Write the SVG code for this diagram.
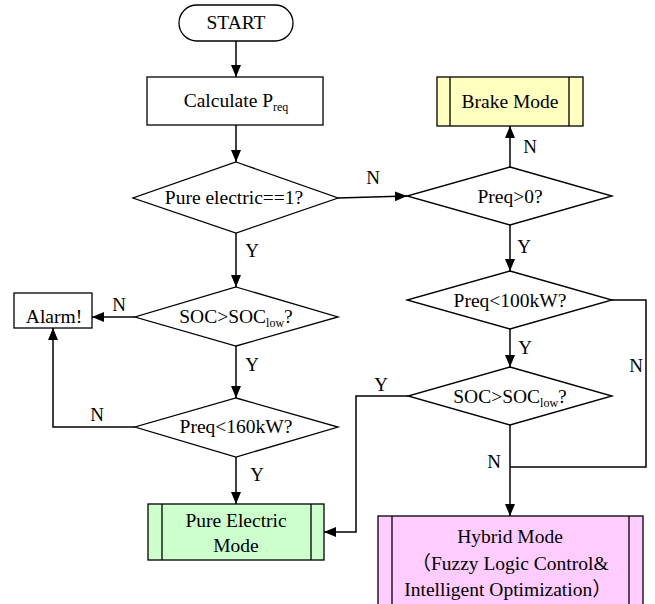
<svg xmlns="http://www.w3.org/2000/svg" width="655" height="604" viewBox="0 0 655 604">
<style>
text{font-family:"Liberation Serif","Noto Sans CJK SC",serif;font-size:19.5px;fill:#000;text-anchor:middle}
.sub{font-size:12px}
.shape{stroke:#000;stroke-width:1.3}
.line{fill:none;stroke:#000;stroke-width:1.5}
.lbl{font-size:19px}
</style>
<defs>
<marker id="arr" markerUnits="userSpaceOnUse" markerWidth="12" markerHeight="12" refX="12" refY="5" orient="auto">
<path d="M0,0 L12,5 L0,10 z" fill="#000"/>
</marker>
</defs>
<rect width="655" height="604" fill="#fff"/>
<g id="connectors">
<path class="line" d="M236,41 V77" marker-end="url(#arr)"/>
<path class="line" d="M236,125 V162" marker-end="url(#arr)"/>
<path class="line" d="M236,233 V287" marker-end="url(#arr)"/>
<path class="line" d="M135,317 H92" marker-end="url(#arr)"/>
<path class="line" d="M236,346 V398" marker-end="url(#arr)"/>
<path class="line" d="M135,427 H53 V328" marker-end="url(#arr)"/>
<path class="line" d="M236,457 V504" marker-end="url(#arr)"/>
<path class="line" d="M338,198 L407,196" marker-end="url(#arr)"/>
<path class="line" d="M510,167 V126" marker-end="url(#arr)"/>
<path class="line" d="M510,225 V271" marker-end="url(#arr)"/>
<path class="line" d="M510,329 V367" marker-end="url(#arr)"/>
<path class="line" d="M408,396 H356 V532 H324" marker-end="url(#arr)"/>
<path class="line" d="M510,425 V516" marker-end="url(#arr)"/>
<path class="line" d="M612,300 H646 V467 H510"/>
<text class="lbl" x="252" y="257">Y</text>
<text class="lbl" x="119" y="311">N</text>
<text class="lbl" x="252" y="371">Y</text>
<text class="lbl" x="97" y="421">N</text>
<text class="lbl" x="257" y="481">Y</text>
<text class="lbl" x="373" y="184">N</text>
<text class="lbl" x="530" y="153">N</text>
<text class="lbl" x="524" y="253">Y</text>
<text class="lbl" x="525" y="354">Y</text>
<text class="lbl" x="636" y="372">N</text>
<text class="lbl" x="381" y="391">Y</text>
<text class="lbl" x="494" y="468">N</text>
</g>
<g id="start">
<rect class="shape" x="179" y="5" width="114" height="36" rx="18" fill="#fff"/>
<text x="236" y="29">START</text>
</g>
<g id="calc">
<rect class="shape" x="147" y="77" width="176" height="48" fill="#fff"/>
<text x="236" y="107">Calculate P<tspan class="sub" dy="4">req</tspan></text>
</g>
<g id="d-pure">
<polygon class="shape" points="236,162 338,198 236,233 133,198" fill="#fff"/>
<text x="234" y="204">Pure electric==1?</text>
</g>
<g id="d-soc1">
<polygon class="shape" points="236,287 338,317 236,346 135,317" fill="#fff"/>
<text x="236" y="323">SOC&gt;SOC<tspan class="sub" dy="4">low</tspan><tspan dy="-4">?</tspan></text>
</g>
<g id="alarm">
<rect class="shape" x="14" y="293" width="78" height="35" fill="#fff"/>
<text x="54" y="323">Alarm!</text>
</g>
<g id="d-160">
<polygon class="shape" points="236,398 338,427 236,457 135,427" fill="#fff"/>
<text x="236" y="433">Preq&lt;160kW?</text>
</g>
<g id="pure-mode">
<rect class="shape" x="148" y="504" width="176" height="56" fill="#ccffcc"/>
<path class="shape" d="M162,504 V560 M311,504 V560"/>
<text x="236" y="527">Pure Electric</text>
<text x="236" y="552">Mode</text>
</g>
<g id="d-preq0">
<polygon class="shape" points="510,167 612,196 510,225 407,196" fill="#fff"/>
<text x="510" y="203">Preq&gt;0?</text>
</g>
<g id="brake">
<rect class="shape" x="437" y="77" width="146" height="49" fill="#ffffc0"/>
<path class="shape" d="M450,77 V126 M569,77 V126"/>
<text x="510" y="108">Brake Mode</text>
</g>
<g id="d-100">
<polygon class="shape" points="510,271 612,300 510,329 407,300" fill="#fff"/>
<text x="510" y="307">Preq&lt;100kW?</text>
</g>
<g id="d-soc2">
<polygon class="shape" points="510,367 612,396 510,425 408,396" fill="#fff"/>
<text x="510" y="403">SOC&gt;SOC<tspan class="sub" dy="4">low</tspan><tspan dy="-4">?</tspan></text>
</g>
<g id="hybrid">
<rect class="shape" x="378" y="516" width="265" height="92" fill="#ffccff"/>
<path class="shape" d="M392,516 V608 M629,516 V608"/>
<text x="510" y="543">Hybrid Mode</text>
<text x="510" y="570">（Fuzzy Logic Control&amp;</text>
<text x="508" y="596">Intelligent Optimization）</text>
</g>
</svg>
